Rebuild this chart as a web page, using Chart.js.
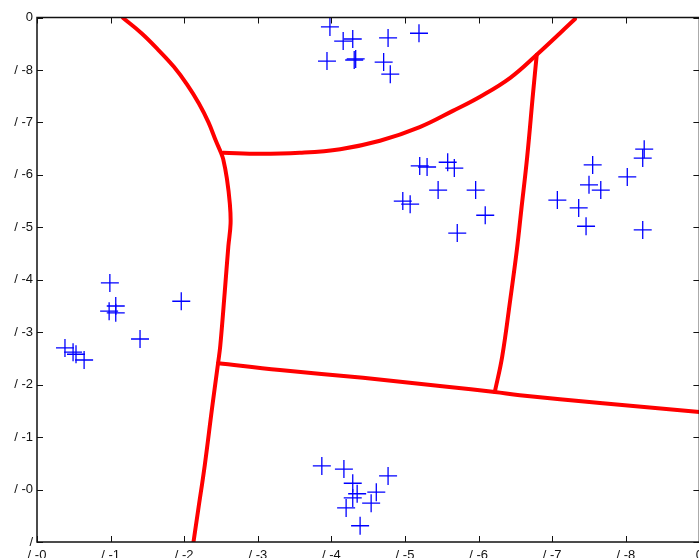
<!DOCTYPE html>
<html lang="en">
<head>
<meta charset="UTF-8" />
<title>Clusters and boundaries</title>
<script src="https://cdn.jsdelivr.net/npm/chart.js"></script>
<style>
  html, body { margin: 0; padding: 0; overflow: hidden; background: #fff; }
  #wrap { position: absolute; left: 0; top: 0; width: 720px; height: 580px; }
</style>
</head>
<body>
<div id="wrap"><canvas id="plot" width="720" height="580"></canvas></div>

<script>
  // tick labels (as printed on the picture)
  const xTickLabels = ["/ -0", "/ -1", "/ -2", "/ -3", "/ -4", "/ -5", "/ -6", "/ -7", "/ -8", "0"];
  const yTickLabels = ["/", "/ -0", "/ -1", "/ -2", "/ -3", "/ -4", "/ -5", "/ -6", "/ -7", "/ -8", "0"];

  // sample points (blue crosses)
  const crossX = [
    3.98, 4.16, 4.29, 4.77, 5.19, 3.94, 4.33, 4.31, 4.71, 4.80,
    0.99, 1.07, 0.98, 1.07, 1.96, 1.40, 0.38, 0.49, 0.53, 0.64,
    3.87, 4.17, 4.29, 4.35, 4.29, 4.20, 4.61, 4.54, 4.77, 4.39,
    5.20, 5.30, 5.58, 5.67, 5.45, 5.96, 4.97, 5.07, 6.09, 5.71,
    8.25, 8.23, 7.55, 8.02, 7.50, 7.66, 7.07, 7.36, 7.46, 8.23
  ];
  const crossY = [
    9.82, 9.55, 9.59, 9.61, 9.70, 9.17, 9.21, 9.19, 9.15, 8.92,
    4.94, 4.50, 4.40, 4.37, 4.59, 3.87, 3.70, 3.62, 3.58, 3.47,
    1.45, 1.39, 1.12, 0.92, 0.84, 0.65, 0.95, 0.74, 1.26, 0.31,
    7.17, 7.15, 7.24, 7.13, 6.71, 6.71, 6.50, 6.44, 6.23, 5.89,
    7.49, 7.32, 7.19, 6.96, 6.81, 6.71, 6.52, 6.37, 6.02, 5.95
  ];

  // decision boundaries (red curves)
  const boundAX = [1.17, 1.42, 1.65, 1.86, 2.04, 2.20, 2.33, 2.43, 2.50, 2.53, 2.58, 2.62, 2.63, 2.60, 2.55, 2.49, 2.46, 2.38, 2.28, 2.19, 2.12];
  const boundAY = [9.99, 9.70, 9.38, 9.06, 8.72, 8.36, 8.00, 7.65, 7.42, 7.30, 6.93, 6.45, 6.07, 5.64, 4.75, 3.74, 3.41, 2.57, 1.47, 0.61, -0.06];
  const boundBX = [2.53, 3.03, 3.57, 4.12, 4.66, 5.20, 5.65, 6.02, 6.43, 6.79, 7.31];
  const boundBY = [7.42, 7.40, 7.42, 7.49, 7.65, 7.91, 8.22, 8.49, 8.85, 9.29, 9.97];
  const boundCX = [6.79, 6.74, 6.66, 6.58, 6.52, 6.43, 6.32, 6.22];
  const boundCY = [9.29, 8.56, 7.34, 6.33, 5.57, 4.62, 3.53, 2.86];
  const boundDX = [2.46, 3.30, 4.43, 5.57, 6.22, 6.56, 7.65, 9.0];
  const boundDY = [3.41, 3.28, 3.13, 2.96, 2.86, 2.80, 2.65, 2.48];

  function pairs(xs, ys) {
    return xs.map((x, i) => ({ x: x, y: ys[i] }));
  }

  function boundary(xs, ys) {
    return {
      type: 'line',
      data: pairs(xs, ys),
      borderColor: "#ff0000",
      borderWidth: 4,
      pointRadius: 0,
      tension: 0.4,
      fill: false,
      borderCapStyle: 'round',
      borderJoinStyle: 'round'
    };
  }

  // box with inward ticks, matlab style
  const framePlugin = {
    id: 'frame',
    afterDraw(chart) {
      const ctx = chart.ctx;
      const a = chart.chartArea;
      const xs = chart.scales.x, ys = chart.scales.y;
      const tl = 6;
      ctx.save();
      ctx.strokeStyle = "#111";
      ctx.lineWidth = 1;
      for (let v = 0; v <= 9; v++) {
        const px = Math.round(xs.getPixelForValue(v)) + 0.5;
        ctx.beginPath();
        ctx.moveTo(px, a.bottom); ctx.lineTo(px, a.bottom - tl);
        ctx.moveTo(px, a.top); ctx.lineTo(px, a.top + tl);
        ctx.stroke();
      }
      for (let v = 0; v <= 10; v++) {
        const py = Math.round(ys.getPixelForValue(v)) + 0.5;
        ctx.beginPath();
        ctx.moveTo(a.left, py); ctx.lineTo(a.left + tl, py);
        ctx.moveTo(a.right, py); ctx.lineTo(a.right - tl, py);
        ctx.stroke();
      }
      ctx.lineWidth = 1.5;
      ctx.strokeRect(a.left, a.top, a.right - a.left, a.bottom - a.top);
      ctx.restore();
    }
  };

  new Chart(document.getElementById("plot"), {
    type: 'scatter',
    data: {
      datasets: [
        {
          data: pairs(crossX, crossY),
          pointStyle: 'cross',
          pointRadius: 9,
          pointHoverRadius: 9,
          borderColor: "#0000ff",
          backgroundColor: "#0000ff",
          pointBorderWidth: 1.3
        },
        boundary(boundAX, boundAY),
        boundary(boundBX, boundBY),
        boundary(boundCX, boundCY),
        boundary(boundDX, boundDY)
      ]
    },
    options: {
      responsive: false,
      animation: false,
      layout: { padding: { left: 0, top: 17.5, right: 20.6, bottom: 0 } },
      plugins: {
        legend: { display: false },
        tooltip: { enabled: false }
      },
      scales: {
        x: {
          type: 'linear',
          min: 0, max: 9,
          grid: { display: false, drawTicks: false },
          border: { display: false },
          ticks: {
            stepSize: 1,
            autoSkip: false,
            maxRotation: 0,
            padding: 6,
            color: "#111",
            font: { family: "Liberation Sans", size: 13 },
            callback: (v) => xTickLabels[v]
          },
          afterFit(scale) {
            scale.height = 38;
            scale.paddingLeft = 0;
            scale.paddingRight = 0;
          }
        },
        y: {
          type: 'linear',
          min: 0, max: 10,
          grid: { display: false, drawTicks: false },
          border: { display: false },
          ticks: {
            stepSize: 1,
            autoSkip: false,
            padding: 4,
            color: "#111",
            font: { family: "Liberation Sans", size: 13 },
            callback: (v) => yTickLabels[v]
          },
          afterFit(scale) {
            scale.width = 37;
            scale.paddingTop = 0;
            scale.paddingBottom = 0;
          }
        }
      }
    },
    plugins: [framePlugin]
  });
</script>
</body>
</html>
